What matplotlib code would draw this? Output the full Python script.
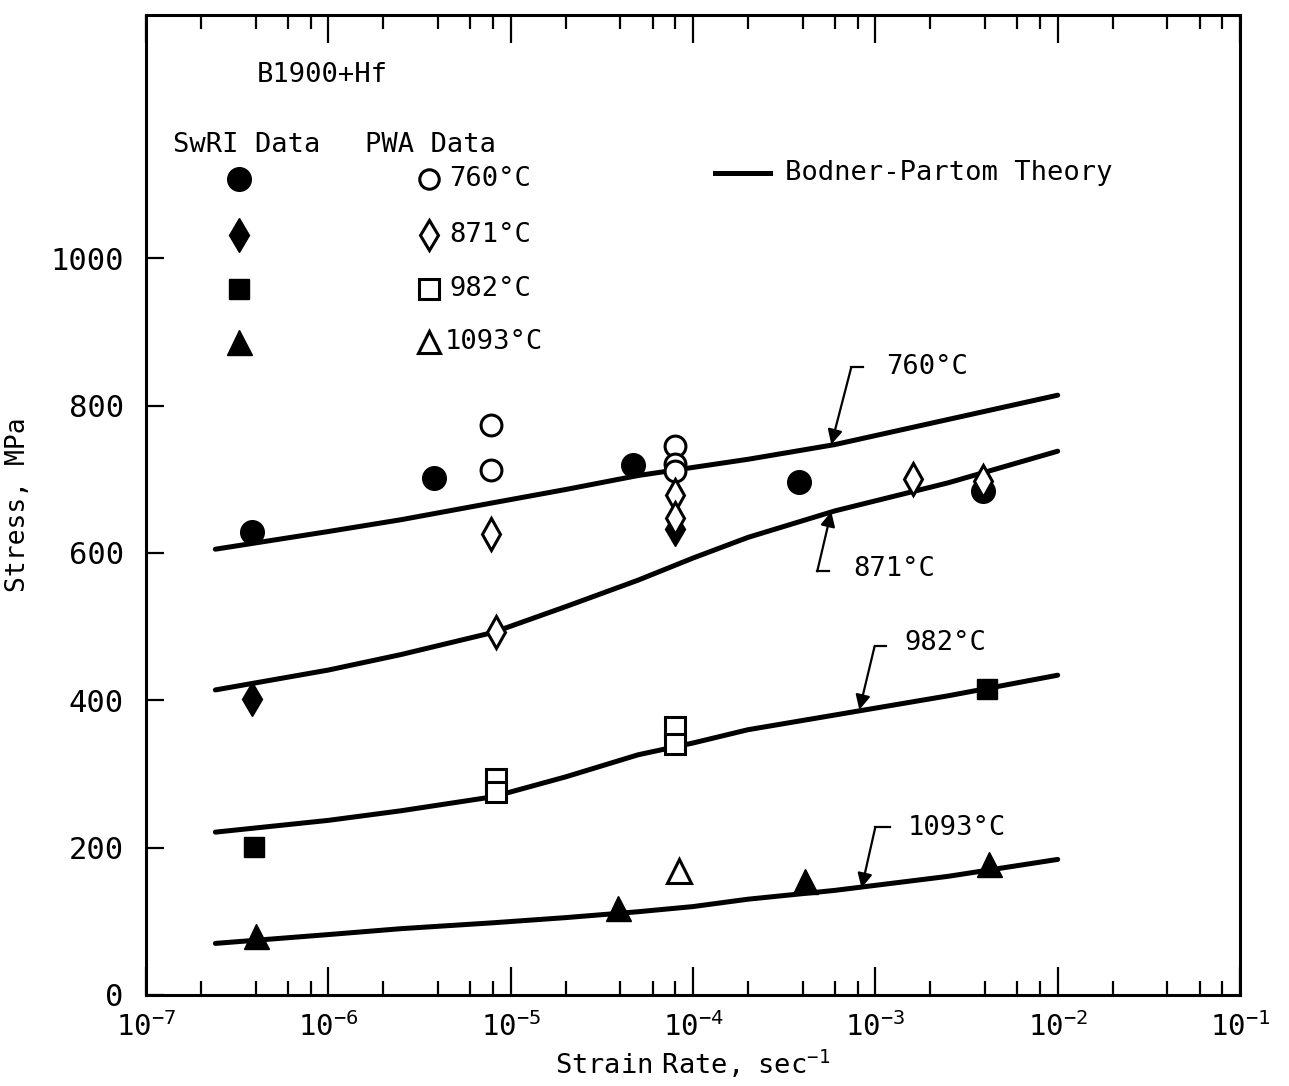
import math
import matplotlib
matplotlib.use('Agg')
import matplotlib.pyplot as plt
import matplotlib.ticker as mticker

plt.rcParams['font.family'] = ['DejaVu Sans Mono']
plt.rcParams['mathtext.default'] = 'regular'

# Bodner-Partom theory curves (strain rate, stress MPa)
curve_x = [2.4e-7, 1e-6, 2.5e-6, 8e-6, 2e-5, 5e-5, 1e-4, 2e-4, 6e-4, 2.5e-3, 1e-2]
curve760 = [605, 629, 645, 668, 686, 705, 716, 727, 747, 781, 814]
curve871 = [414, 441, 462, 492, 527, 563, 593, 621, 657, 695, 738]
curve982 = [221, 237, 250, 269, 296, 326, 342, 360, 380, 406, 434]
curve1093 = [70, 82, 90, 98, 105, 113, 120, 130, 142, 161, 184]

# SwRI data (filled)
swri760_x = [3.8e-7, 3.8e-6, 4.7e-5, 3.8e-4, 3.9e-3]
swri760_y = [628, 701, 719, 696, 684]
swri871_x = [3.8e-7, 8.0e-5]
swri871_y = [402, 633]
swri982_x = [3.9e-7, 4.1e-3]
swri982_y = [201, 415]
swri1093_x = [4.0e-7, 3.9e-5, 4.1e-4, 4.2e-3]
swri1093_y = [80, 118, 155, 178]

# PWA data (open)
pwa760_x = [7.8e-6, 7.8e-6, 8.0e-5, 8.0e-5, 8.0e-5]
pwa760_y = [773, 712, 745, 720, 711]
pwa871_x = [7.8e-6, 8.3e-6, 8.0e-5, 8.0e-5, 1.6e-3, 3.9e-3]
pwa871_y = [625, 493, 678, 648, 700, 697]
pwa982_x = [8.3e-6, 8.3e-6, 8.0e-5, 8.0e-5]
pwa982_y = [293, 276, 364, 340]
pwa1093_x = [8.4e-5]
pwa1093_y = [168]

decades = [1e-7, 1e-6, 1e-5, 1e-4, 1e-3, 1e-2, 1e-1]

fig = plt.figure(figsize=(12.89, 10.86), dpi=100)
ax = fig.add_axes([0.1133, 0.0838, 0.8487, 0.9024])
ax.set_xscale('log')
ax.set_xlim(1e-7, 1e-1)
ax.set_ylim(0, 1330)

lw = 3.6
for cy in [curve760, curve871, curve982, curve1093]:
    ax.plot(curve_x, cy, color='k', lw=lw, solid_capstyle='round', zorder=2)

ms = dict(linestyle='none', color='k', zorder=3)
ax.plot(swri760_x, swri760_y, marker='o', markersize=17, **ms)
ax.plot(swri871_x, swri871_y, marker='d', markersize=17, **ms)
ax.plot(swri982_x, swri982_y, marker='s', markersize=15, **ms)
ax.plot(swri1093_x, swri1093_y, marker='^', markersize=18, **ms)

mo = dict(linestyle='none', markerfacecolor='white', markeredgecolor='k', markeredgewidth=2.2, zorder=4)
ax.plot(pwa760_x, pwa760_y, marker='o', markersize=15, **mo)
ax.plot(pwa871_x, pwa871_y, marker='d', markersize=16, **mo)
ax.plot(pwa982_x, pwa982_y, marker='s', markersize=15, **mo)
ax.plot(pwa1093_x, pwa1093_y, marker='^', markersize=17, **mo)

# curve labels with leader arrows
fs = 19.5
labels = [
    ('760°C', (8.6e-4, 852), (7.38e-4, 852), (5.73e-4, 747), (1.15e-3, 852)),
    ('871°C', (5.58e-4, 575), (4.8e-4, 575), (5.73e-4, 656), (7.6e-4, 578)),
    ('982°C', (1.15e-3, 473), (9.9e-4, 473), (8.17e-4, 387), (1.44e-3, 478)),
    ('1093°C', (1.21e-3, 228), (1.0e-3, 228), (8.4e-4, 145), (1.5e-3, 226)),
]
for txt, p0, p1, tip, tpos in labels:
    ax.plot([p0[0], p1[0]], [p0[1], p1[1]], color='k', lw=1.6, zorder=3)
    ax.annotate('', xy=tip, xytext=p1,
                arrowprops=dict(arrowstyle='-|>', color='k', lw=1.6, mutation_scale=22,
                                shrinkA=0, shrinkB=0), zorder=3)
    ax.text(tpos[0], tpos[1], txt, fontsize=fs, ha='left', va='center')

# legend block
T = ax.transAxes
ax.text(0.1015, 0.9388, 'B1900+Hf', transform=T, fontsize=fs, va='center')
ax.text(0.0247, 0.8673, 'SwRI Data', transform=T, fontsize=fs, va='center')
ax.text(0.2002, 0.8673, 'PWA Data', transform=T, fontsize=fs, va='center')
rows_y = [0.8327, 0.7755, 0.7204, 0.6663]
row_markers = ['o', 'd', 's', '^']
row_sizes = [17, 17, 15, 18]
open_sizes = [14, 15, 14, 16]
row_text = ['760°C', '871°C', '982°C', '1093°C']
text_x = [0.2770, 0.2770, 0.2770, 0.2733]
for yy, mk, sz, osz, tx, txx in zip(rows_y, row_markers, row_sizes, open_sizes, row_text, text_x):
    ax.plot([0.085], [yy], marker=mk, markersize=sz, color='k', transform=T, clip_on=False)
    ax.plot([0.2587], [yy], marker=mk, markersize=osz,
            markerfacecolor='white', markeredgecolor='k', markeredgewidth=2.2,
            transform=T, clip_on=False)
    ax.text(txx, yy, tx, transform=T, fontsize=fs, va='center')
ax.plot([0.520, 0.570], [0.8388, 0.8388], color='k', lw=lw, transform=T)
ax.text(0.584, 0.8388, 'Bodner-Partom Theory', transform=T, fontsize=fs, va='center')

# axes styling
for s in ax.spines.values():
    s.set_linewidth(2.2)
ax.xaxis.set_major_locator(mticker.FixedLocator(decades))
ax.xaxis.set_minor_locator(mticker.FixedLocator(
    [d * k for d in decades[:-1] for k in (2, 4, 6, 8)]))
ax.xaxis.set_minor_formatter(mticker.NullFormatter())
ax.xaxis.set_major_formatter(mticker.FuncFormatter(
    lambda v, p: r'$\mathregular{10^{%d}}$' % round(math.log10(v))))
ax.tick_params(axis='x', which='major', direction='in', top=True, length=20, width=1.6,
               labelsize=21, pad=12)
ax.tick_params(axis='x', which='minor', direction='in', top=True, length=10, width=1.6)
ax.set_yticks([0, 200, 400, 600, 800, 1000])
ax.tick_params(axis='y', direction='in', length=13, width=1.6, labelsize=22, pad=16)

ax.set_xlabel(r'$\mathregular{Strain\ Rate,\ sec^{-1}}$', fontsize=19.5, labelpad=4)
ax.set_ylabel('Stress, MPa', fontsize=19, labelpad=14)

fig.savefig('out.png', dpi=100)
